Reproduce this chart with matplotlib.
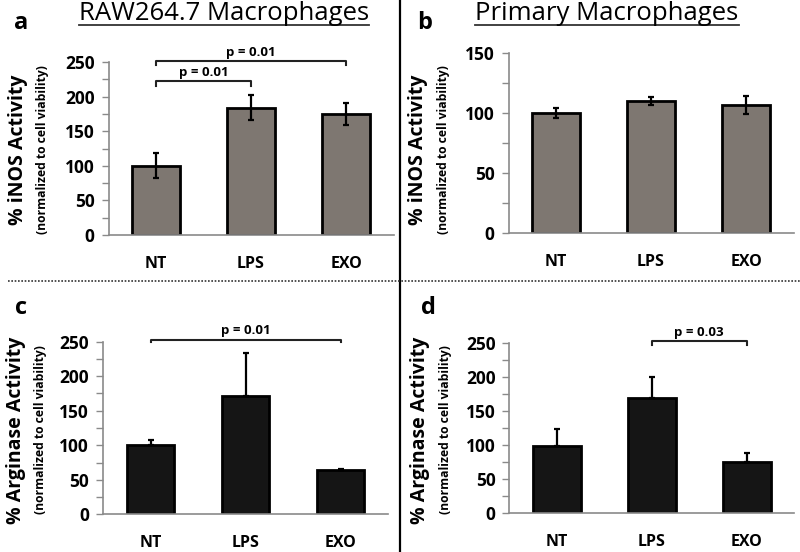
import matplotlib
matplotlib.use("Agg")
import matplotlib.pyplot as plt
from matplotlib.lines import Line2D
import numpy as np

plt.rcParams['font.family'] = ['Open Sans', 'DejaVu Sans']

categories = ["NT", "LPS", "EXO"]

# Panel a: RAW264.7 iNOS
a_vals = [100, 184, 175]
a_err = [18, 18, 16]
# Panel b: Primary iNOS
b_vals = [100, 110, 107]
b_err = [4, 3.5, 7.5]
# Panel c: RAW264.7 Arginase (upper error only)
c_vals = [100, 171, 64]
c_err = [7, 62, 2]
# Panel d: Primary Arginase
d_vals = [99, 169, 76]
d_err = [25, 31, 13]

W, H = 800, 552
fig = plt.figure(figsize=(8, 5.52), dpi=100)

GREY_BAR = "#7e7771"
DARK_BAR = "#151515"
SPINE = "#8a8a8a"

def px_ax(left, right, top, bottom):
    return fig.add_axes([left / W, 1 - bottom / H, (right - left) / W, (bottom - top) / H])

def style(ax, ymax, step):
    ax.set_xlim(-0.5, 2.5)
    ax.set_ylim(0, ymax)
    for s in ["top", "right"]:
        ax.spines[s].set_visible(False)
    for s in ["left", "bottom"]:
        ax.spines[s].set_color(SPINE)
        ax.spines[s].set_linewidth(1.2)
    ax.set_yticks(np.arange(0, ymax + 1, step))
    ax.set_yticks(np.arange(0, ymax + 1, step / 2), minor=True)
    ax.tick_params(axis="y", which="both", direction="out", length=5, width=1, color=SPINE,
                   labelsize=12.5, pad=5)
    ax.tick_params(axis="x", length=0, labelsize=11.5, pad=15)
    ax.set_xticks(range(3))
    ax.set_xticklabels(categories)
    for lab in ax.get_xticklabels() + ax.get_yticklabels():
        lab.set_fontweight("bold")

def bars(ax, vals, err, color, two_sided=True):
    x = np.arange(len(vals))
    if two_sided:
        yerr = err
    else:
        yerr = [np.zeros(len(err)), err]
    ax.bar(x, vals, width=0.5, color=color, edgecolor="black", linewidth=2, zorder=2)
    ax.errorbar(x, vals, yerr=yerr, fmt="none", ecolor="black", elinewidth=1.6,
                capsize=2.5, capthick=1.6, zorder=3)

def bracket(ax, x0, x1, y, drop, text):
    ax.plot([x0, x0, x1, x1], [y - drop, y, y, y - drop], color="#222222", lw=1.5,
            clip_on=False, zorder=4)
    ax.text((x0 + x1) / 2, y + 4 * (ax.get_ylim()[1] / 250), text, ha="center", va="bottom",
            fontsize=9.5, fontweight="bold", clip_on=False)

def ylabels(xmain, xsub, ycenter, main):
    fig.text(xmain / W, 1 - ycenter / H, main, rotation=90, ha="center", va="center",
             fontsize=14, fontweight="bold")
    fig.text(xsub / W, 1 - ycenter / H, "(normalized to cell viability)", rotation=90,
             ha="center", va="center", fontsize=8.7, fontweight="bold")

# Panel a
axa = px_ax(108.5, 393.5, 62, 235)
bars(axa, a_vals, a_err, GREY_BAR)
style(axa, 250, 50)
bracket(axa, 0, 2, 251, 5, "p = 0.01")
bracket(axa, 0, 1, 222, 7, "p = 0.01")
ylabels(18, 43, 150, "% iNOS Activity")

# Panel b
axb = px_ax(508.5, 793.5, 53.3, 233.3)
bars(axb, b_vals, b_err, GREY_BAR)
style(axb, 150, 50)
ylabels(418, 443, 150, "% iNOS Activity")

# Panel c
axc = px_ax(103, 388, 341.7, 514.3)
bars(axc, c_vals, c_err, DARK_BAR, two_sided=False)
style(axc, 250, 50)
bracket(axc, 0, 2, 253, 4, "p = 0.01")
ylabels(16, 41, 430, "% Arginase Activity")

# Panel d
axd = px_ax(509.3, 794.3, 343.3, 513.3)
bars(axd, d_vals, d_err, DARK_BAR, two_sided=False)
style(axd, 250, 50)
bracket(axd, 1, 2, 253, 5, "p = 0.03")
ylabels(420, 445, 430, "% Arginase Activity")

# Panel letters
for (x, y, t) in [(21, 23, "a"), (425, 23, "b"), (21, 308, "c"), (428, 308, "d")]:
    fig.text(x / W, 1 - y / H, t, ha="center", va="center", fontsize=17, fontweight="bold")

# Titles with underline
titles = []
for (x, t) in [(224, "RAW264.7 Macrophages"), (607, "Primary Macrophages")]:
    titles.append(fig.text(x / W, 1 - 13 / H, t, ha="center", va="center", fontsize=18.5))

# Divider lines
fig.add_artist(Line2D([400 / W, 400 / W], [0, 1], color="black", lw=1.6))
fig.add_artist(Line2D([8 / W, 1], [1 - 281 / H, 1 - 281 / H], color="#333333", lw=1.2,
                      linestyle=(0, (1, 1))))

fig.canvas.draw()
r = fig.canvas.get_renderer()
for t in titles:
    bb = t.get_window_extent(r)
    yy = (bb.y0 + 1) / H
    fig.add_artist(Line2D([bb.x0 / W, bb.x1 / W], [yy, yy], color="#333333", lw=1.3))

fig.savefig("out.png", dpi=100)
